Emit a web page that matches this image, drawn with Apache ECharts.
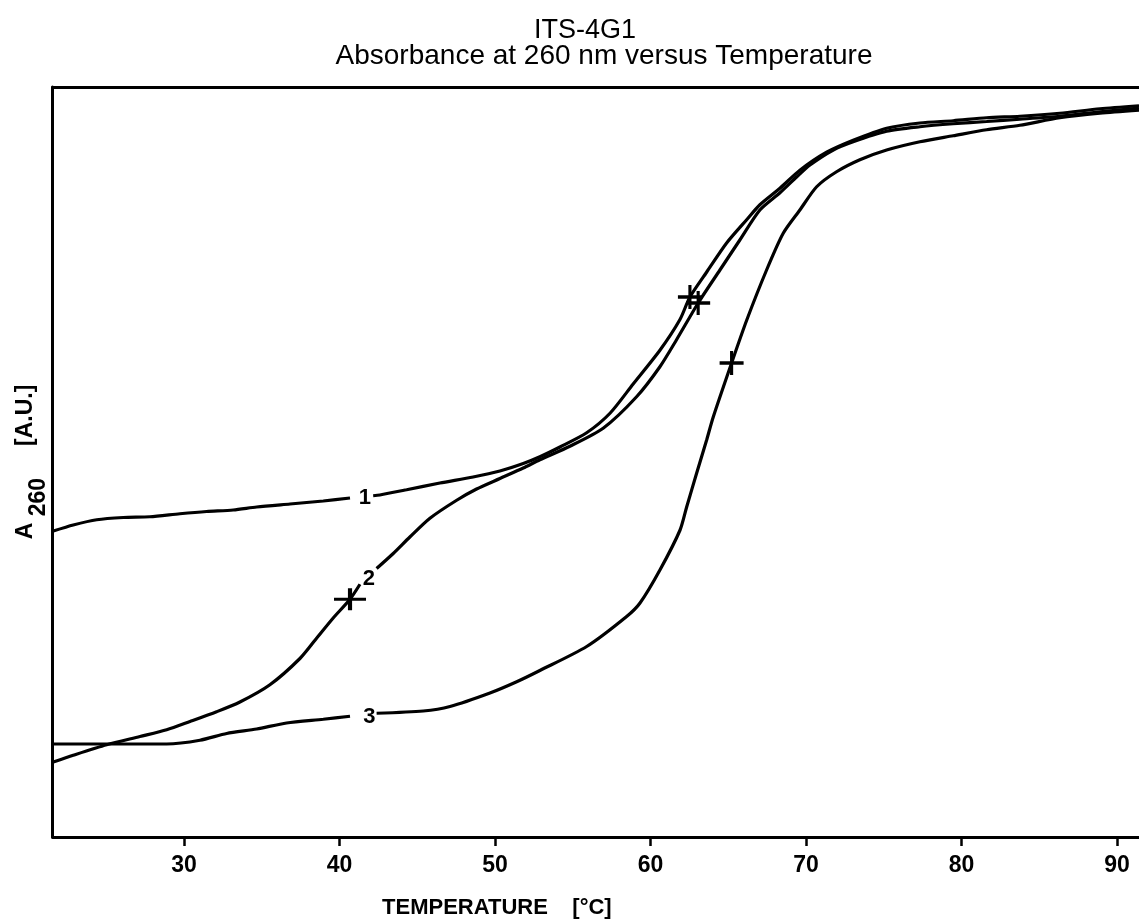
<!DOCTYPE html>
<html>
<head>
<meta charset="utf-8">
<script src="https://cdn.jsdelivr.net/npm/echarts@6/dist/echarts.min.js"></script>
<style>html,body{margin:0;padding:0;background:#fff}#c{width:1139px;height:919px}</style>
</head>
<body>
<div id="c"></div>
<script>
// ---- data (temperature in °C, absorbance in arbitrary units) ----
const xTicks = [30, 40, 50, 60, 70, 80, 90];
const xMin = 21.56, xMax = 91.42;

const temp1 = [21.60,22.88,24.39,26.10,27.81,29.74,31.46,33.17,34.68,36.82,38.96,40.68,41.40,42.17,42.60,44.32,46.46,48.60,50.32,51.82,52.89,54.18,55.90,57.40,58.89,60.61,61.90,62.54,63.61,64.90,66.19,67.04,68.33,69.61,71.33,73.04,75.19,77.33,79.47,81.62,83.76,86.33,88.91,91.42];
const abs1  = [0.408,0.416,0.423,0.426,0.427,0.431,0.434,0.436,0.440,0.444,0.448,0.452,null,0.455,0.456,0.463,0.472,0.480,0.488,0.498,0.507,0.520,0.539,0.565,0.604,0.649,0.690,0.720,0.753,0.792,0.823,0.843,0.865,0.889,0.913,0.929,0.945,0.952,0.955,0.959,0.961,0.965,0.971,0.975];

const temp2 = [21.60,22.88,25.03,27.17,28.89,30.39,32.10,33.60,35.53,37.46,38.53,39.60,40.68,41.32,41.85,42.39,43.46,44.53,45.82,47.54,48.82,50.32,51.82,52.89,54.82,56.96,59.11,60.61,61.68,63.07,64.47,65.75,67.04,68.33,69.40,70.26,71.76,73.04,75.19,77.33,79.47,81.62,83.76,86.33,88.91,91.42];
const abs2  = [0.100,0.109,0.123,0.134,0.143,0.154,0.167,0.180,0.203,0.238,0.265,0.292,0.317,0.337,null,0.358,0.378,0.400,0.425,0.449,0.464,0.478,0.492,0.503,0.521,0.545,0.587,0.627,0.663,0.712,0.756,0.796,0.836,0.859,0.880,0.896,0.916,0.927,0.941,0.947,0.951,0.954,0.957,0.961,0.967,0.972];

const temp3 = [21.60,25.03,28.89,31.03,32.75,34.68,36.60,38.96,40.68,41.40,42.39,45.39,47.11,49.68,51.40,52.89,55.90,58.47,59.33,60.61,61.90,62.33,62.97,63.61,64.04,65.22,66.19,67.47,68.54,69.61,70.69,71.97,73.47,75.19,77.33,79.47,81.62,83.76,86.33,88.91,91.42];
const abs3  = [0.124,0.124,0.124,0.129,0.138,0.144,0.152,0.157,0.161,null,0.165,0.168,0.174,0.192,0.207,0.222,0.254,0.294,0.312,0.356,0.409,0.440,0.485,0.529,0.560,0.632,0.689,0.756,0.805,0.836,0.867,0.887,0.903,0.916,0.927,0.935,0.943,0.949,0.959,0.965,0.969];

// melting-point (Tm) crosses
const tmTemp = [40.68, 62.54, 63.07, 65.22];
const tmAbs  = [0.317, 0.720, 0.712, 0.632];

// curve number labels
const curveLabelText = ['1', '2', '3'];
const curveLabelTemp = [41.64, 41.90, 41.92];
const curveLabelAbs  = [0.452, 0.344, 0.160];

// ---- build ----
const FONT = "'Liberation Sans', Arial, Helvetica, sans-serif";
const zip = (xs, ys) => xs.map((x, i) => [x, ys[i]]);

const lineStyle = { color: '#000', width: 3.2 };
function curve(name, xs, ys) {
  return {
    name, type: 'line', data: zip(xs, ys), showSymbol: false, symbol: 'none',
    smooth: 0.25, connectNulls: false, lineStyle, silent: true, z: 3
  };
}

const crossPath = 'path://M0,43 L100,43 L100,57 L0,57 Z M43.5,0 L56.5,0 L56.5,100 L43.5,100 Z';

const chart = echarts.init(document.getElementById('c'), null, { renderer: 'canvas' });
chart.setOption({
  animation: false,
  backgroundColor: '#fff',
  title: [
    { text: 'ITS-4G1', left: 580, top: 12, textAlign: 'center',
      textStyle: { fontFamily: FONT, fontSize: 27, fontWeight: 'normal', color: '#000' } },
    { text: 'Absorbance at 260 nm versus Temperature', left: 599, top: 37, textAlign: 'center',
      textStyle: { fontFamily: FONT, fontSize: 28, fontWeight: 'normal', color: '#000' } }
  ],
  grid: { left: 52.7, right: 0, top: 87, bottom: 82, containLabel: false, outerBoundsMode: 'none' },
  xAxis: [
    {
      type: 'value', min: xMin, max: xMax, position: 'bottom',
      axisLine: { show: true, lineStyle: { color: '#000', width: 3 } },
      axisTick: { show: true, customValues: xTicks, length: 9, inside: false, lineStyle: { color: '#000', width: 2.5 } },
      axisLabel: { show: true, customValues: xTicks, margin: 17, color: '#000', fontFamily: FONT, fontSize: 23, fontWeight: 'bold' },
      splitLine: { show: false },
      name: 'TEMPERATURE    [°C]', nameLocation: 'middle', nameGap: 60,
      nameTextStyle: { color: '#000', fontFamily: FONT, fontSize: 22, fontWeight: 'bold', padding: [0, 198, 0, 0] }
    },
    {
      type: 'value', min: xMin, max: xMax, position: 'top',
      axisLine: { show: true, lineStyle: { color: '#000', width: 3 } },
      axisTick: { show: false }, axisLabel: { show: false }, splitLine: { show: false }
    }
  ],
  yAxis: {
    type: 'value', min: 0, max: 1,
    axisLine: { show: true, lineStyle: { color: '#000', width: 3 } },
    axisTick: { show: false }, axisLabel: { show: false }, splitLine: { show: false },
    name: '{a|A }{s|260}{a|     [A.U.]}', nameLocation: 'middle', nameRotate: 90, nameGap: 3,
    nameTextStyle: {
      rich: {
        a: { fontFamily: FONT, fontSize: 23, fontWeight: 'bold', color: '#000', lineHeight: 36, verticalAlign: 'top' },
        s: { fontFamily: FONT, fontSize: 23, fontWeight: 'bold', color: '#000', lineHeight: 36, verticalAlign: 'bottom' }
      }
    }
  },
  series: [
    curve('1', temp1, abs1),
    curve('2', temp2, abs2),
    curve('3', temp3, abs3),
    {
      type: 'scatter', data: zip(tmTemp, tmAbs), symbol: crossPath,
      symbolSize: (v, p) => p.dataIndex === 0 ? [32, 22] : [24, 24],
      itemStyle: { color: '#000', opacity: 1 }, silent: true, z: 4
    },
    {
      type: 'scatter', data: curveLabelTemp.map((t, i) => ({ value: [t, curveLabelAbs[i]], name: curveLabelText[i] })),
      symbolSize: 0.001, silent: true, z: 5,
      itemStyle: { opacity: 0 },
      label: { show: true, position: 'inside', formatter: p => p.name, color: '#000', opacity: 1,
               fontFamily: FONT, fontSize: 22, fontWeight: 'bold' }
    }
  ]
});
</script>
</body>
</html>
